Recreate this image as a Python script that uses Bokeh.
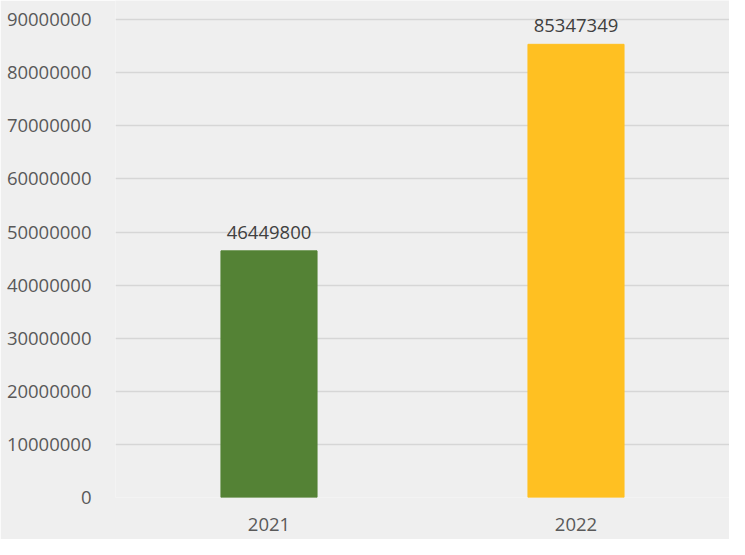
from bokeh.plotting import figure
from bokeh.models import ColumnDataSource, FactorRange, Range1d, SingleIntervalTicker, NumeralTickFormatter, LabelSet
from bokeh.core.properties import value
from bokeh.embed import file_html
from bokeh.resources import INLINE

years = ["2021", "2022"]
values = [46449800, 85347349]
colors = ["#548235", "#FFC022"]
labels = [str(v) for v in values]

src = ColumnDataSource(dict(x=years, top=values, color=colors, label=labels))

p = figure(width=729, height=539, output_backend="svg", toolbar_location=None,
           x_range=FactorRange(factors=years, start=0, end=1.965),
           y_range=Range1d(0, 93600000),
           min_border_left=115, min_border_right=0, min_border_top=0, min_border_bottom=42)

p.vbar(x="x", top="top", width=0.313, color="color", source=src)

p.add_layout(LabelSet(x="x", y="top", text="label", source=src, text_align="center",
                      text_baseline="bottom", y_offset=12, text_font=value("Open Sans"),
                      text_font_size="18.5px", text_color="#404040"))

bg = "#efefef"
p.background_fill_color = bg
p.border_fill_color = bg
p.outline_line_color = None

p.yaxis.ticker = SingleIntervalTicker(interval=10000000)
p.yaxis.formatter = NumeralTickFormatter(format="0")
p.yaxis.axis_line_color = None
p.yaxis.major_tick_line_color = None
p.yaxis.minor_tick_line_color = None
p.yaxis.major_label_standoff = 18
p.yaxis.major_label_text_font = "Open Sans"
p.yaxis.major_label_text_font_size = "18.5px"
p.yaxis.major_label_text_color = "#595959"

p.xaxis.axis_line_color = None
p.xaxis.major_tick_line_color = None
p.xaxis.minor_tick_line_color = None
p.xaxis.major_label_standoff = 14
p.xaxis.major_label_text_font = "Open Sans"
p.xaxis.major_label_text_font_size = "18.5px"
p.xaxis.major_label_text_color = "#595959"

p.xgrid.grid_line_color = None
p.ygrid.grid_line_color = "#d6d6d6"
p.ygrid.grid_line_width = 1.5

open("out.html", "w").write(file_html(p, INLINE))
